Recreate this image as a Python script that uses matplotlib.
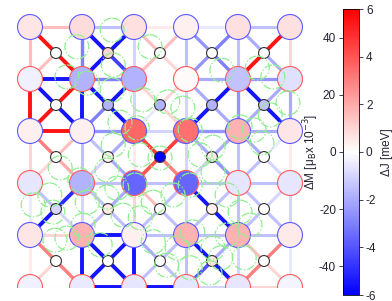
# -*- coding: utf-8 -*-

# ---------------------------------------------------------------
# IMPORTS

import matplotlib
matplotlib.use('Agg')
import matplotlib.pyplot as plt
import matplotlib.colors as mcolors
from matplotlib.patches import Circle

# ---------------------------------------------------------------
# DATA

# Large atoms: dM [muB x 10^-3], rows from top to bottom
big_dm = [
    [5, 7, 6, 3, 6, 6],
    [-3, -15, -15, 1, -12, -6],
    [3, 3, 30, 28, 15, 5],
    [-5, -15, -30, -30, -5, -5],
    [5, 15, 3, 15, 15, 4],
    [-3, -4, -5, -5, -5, -2],
]
# edge colour of large atoms per row (spin sublattice)
big_edge = ['#5a5aff', '#ff5a5a', '#5a5aff', '#ff5a5a', '#5a5aff', '#ff5a5a']

# Small atoms (centre of each square): dM
small_dm = [
    [0, 8, 0, 0, 0],
    [0, -15, -15, -15, -12],
    [0, 3, -50, 4, 0],
    [-8, 4, 0, 3, 0],
    [0, 0, 0, 5, 0],
]

# dJ [meV] of horizontal bonds, h_dj[row][col] -> (col, row)-(col+1, row)
h_dj = [
    [1.5, -1.5, 0.5, -0.5, -1.5],
    [-5.5, -3, 0, -2, -2.5],
    [5.5, -2.5, -1, -2.5, -2],
    [0, -1.5, -1.5, -1.5, -1.5],
    [1, -5.5, -1.5, -1.5, -1.5],
    [0, -5.5, -5.5, -1, 1],
]
# dJ of vertical bonds, v_dj[row][col] -> (col, row)-(col, row+1)
v_dj = [
    [1.5, -3, -1, -1.5, -1.5, 1],
    [5.5, -5.5, -1, -1, -2.5, -2],
    [1, -1.5, 0.5, -1, -1.5, 0.5],
    [-0.5, -1, 1, -1, -1.5, -1],
    [0.5, -5.5, -5.5, -1.5, -1, -0.5],
]
# dJ of small-large bonds, d_dj[row][col] = [TL, TR, BL, BR]
d_dj = [
    [[5.5, 0, 1.5, 5.5], [-5.5, -5.5, -5.5, -4.5], [1.5, 1.5, 1.5, 1],
     [-2.5, -3, -2.5, -3], [-2, 5.5, 5.5, -2]],
    [[-5.5, 5.5, 5.5, -5.5], [-5.5, -5.5, -3, -5.5], [1, 1, -0.5, 1],
     [-2, -5.5, -5.5, -2], [-5.5, -2, -2, -5.5]],
    [[3, 1.5, 1, 2], [-1.5, -2, -1, -2], [4.5, 4.5, 4, 3],
     [-2, -2, -1, -2.5], [-2, -0.5, -1.5, -1]],
    [[-1.5, -5, -5.5, -1], [-1.5, -2, -1.5, -1.5], [1.5, -1.5, -1.5, -1.5],
     [-5.5, -1.5, -1.5, -5.5], [-1.5, -1, -1.5, -1.5]],
    [[3, 0, 1, 3], [-5.5, -5.5, -5.5, -5.5], [-2, -1.5, -1.5, -1.5],
     [-5.5, -2, -4, -5.5], [1.5, 3, 3, 1]],
]

# Dashed reference circles (lattice units)
green_c = [1.58, 2.31, 0.90, 1.60, 1.10, 1.58, 2.17, 2.65, 2.94, 3.69,
           4.37, 4.67, 4.96, 4.62, 4.04, 4.46, 3.52, 3.08, 3.27, 2.50,
           2.06, 1.73, 1.60, 2.12, 1.48, 0.96, 0.58, 0.38, 1.10, 1.48,
           2.02, 2.37, 2.75, 3.08, 3.52, 3.79, 4.04, 4.23, 3.79, 3.52,
           3.13, 2.83, 2.63, 3.08, 3.46, 2.37, 2.12, 1.79, 1.02, 0.71,
           1.35, 0.44, 1.67, 0.06, 0.48, 3.67, 4.12, 4.31, 0.71]
green_r = [0.06, 0.38, 0.38, 0.73, 1.08, 1.21, 1.40, 1.44, 1.56, 0.83,
           0.79, 0.96, 1.46, 1.69, 1.92, 2.23, 2.31, 1.98, 2.46, 2.52,
           1.94, 1.83, 2.27, 2.46, 2.75, 2.94, 2.71, 3.23, 3.37, 3.27,
           3.04, 3.37, 3.23, 3.04, 2.79, 3.23, 3.56, 3.81, 4.00, 4.25,
           3.94, 4.25, 4.58, 4.63, 4.73, 4.13, 3.67, 3.62, 3.81, 4.06,
           4.19, 3.56, 3.10, 3.42, 4.10, 4.44, 4.44, 1.98, 0.96]

dm_ticks = [-40, -20, 0, 20, 40]
dj_ticks = [-6, -4, -2, 0, 2, 4, 6]

# ---------------------------------------------------------------
# MAIN

def main():
    plt.rcParams['font.family'] = ['Liberation Sans', 'DejaVu Sans']
    plt.rcParams['axes.unicode_minus'] = False

    cmap = plt.get_cmap('bwr')
    norm_j = mcolors.Normalize(-6, 6)
    norm_m = mcolors.Normalize(-50, 50)

    fig = plt.figure(figsize=(3.92, 3.01), dpi=100)

    # lattice axes: 1 unit = 52 px, first large atom at (30, 27) px
    ax = fig.add_axes([0, 13 / 301, 310 / 392, 288 / 301])
    ax.set_xlim(-30 / 52, 280 / 52)
    ax.set_ylim(261 / 52, -27 / 52)
    ax.axis('off')

    def bond(p, q, v):
        ax.plot([p[0], q[0]], [p[1], q[1]], color=cmap(norm_j(v)),
                lw=2.0 + 0.15 * abs(v), solid_capstyle='butt', zorder=1 + abs(v) / 10)

    # Bonds between large atoms
    for r, row in enumerate(h_dj):
        for c, v in enumerate(row):
            bond((c, r), (c + 1, r), v)
    for r, row in enumerate(v_dj):
        for c, v in enumerate(row):
            bond((c, r), (c, r + 1), v)
    # Bonds small - large
    for j, row in enumerate(d_dj):
        for i, vals in enumerate(row):
            s = (i + 0.5, j + 0.5)
            for (dx, dy), v in zip([(0, 0), (1, 0), (0, 1), (1, 1)], vals):
                bond(s, (i + dx, j + dy), v)

    # Atoms
    for r, row in enumerate(big_dm):
        for c, m in enumerate(row):
            ax.add_patch(Circle((c, r), 0.24, fc=cmap(norm_m(m)),
                                ec=big_edge[r], lw=0.8, zorder=3))
    for j, row in enumerate(small_dm):
        for i, m in enumerate(row):
            ax.add_patch(Circle((i + 0.5, j + 0.5), 0.105, fc=cmap(norm_m(m)),
                                ec='#333333', lw=0.8, zorder=3))

    # Dashed circles on top
    for c, r in zip(green_c, green_r):
        ax.add_patch(Circle((c, r), 0.23, fill=False, ec='#90ee90',
                            ls='-.', lw=0.9, zorder=5))

    # Colour bar: dJ on the right
    rect = [343 / 392, 6 / 301, 16 / 392, 286 / 301]
    cax = fig.add_axes(rect)
    sm = plt.cm.ScalarMappable(norm=norm_j, cmap=cmap)
    cb = fig.colorbar(sm, cax=cax)
    cb.set_ticks(dj_ticks)
    cax.yaxis.set_ticks_position('right')
    cax.tick_params(labelsize=8.5, length=3, width=0.6, pad=2, colors='#222233')
    cb.set_label('ΔJ [meV]', fontsize=8.5, color='#222233', labelpad=3)
    cb.outline.set_linewidth(0.6)

    # dM scale on the left of the same bar
    ax2 = fig.add_axes(rect)
    ax2.patch.set_visible(False)
    ax2.set_ylim(-50, 50)
    ax2.set_xticks([])
    ax2.set_yticks(dm_ticks)
    ax2.yaxis.tick_left()
    ax2.yaxis.set_label_position('left')
    ax2.tick_params(labelsize=8.5, length=3, width=0.6, pad=2, colors='#222233')
    ax2.set_ylabel('ΔM [μ$_\\mathrm{B}$x 10$^{-3}$]', fontsize=8.5,
                   color='#222233')
    ax2.yaxis.set_label_coords(-1.4, 0.5)
    for sp in ax2.spines.values():
        sp.set_visible(False)

    fig.savefig('out.png', dpi=100)


if __name__ == '__main__':
    main()
